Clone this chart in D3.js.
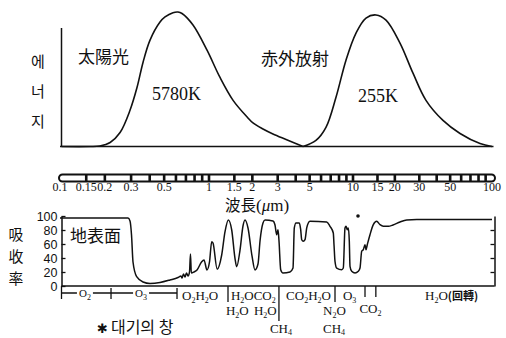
<!DOCTYPE html>
<html>
<head>
<meta charset="utf-8">
<script src="https://cdn.jsdelivr.net/npm/d3@7"></script>
<style>
  body { margin: 0; background: #fff; }
  svg { display: block; }
</style>
</head>
<body>
<svg id="chart" width="506" height="338"></svg>
<script>
// ---- data (wavelength in µm) ----
const rulerLabels = [0.1, 0.15, 0.2, 0.3, 0.5, 1, 1.5, 2, 3, 5, 10, 15, 20, 30, 50, 100];
const rulerDividers = [0.15, 0.2, 0.3, 0.4, 0.5, 0.6, 0.7, 0.8, 0.9, 1, 1.5, 2, 3, 4, 5, 6, 7, 8, 9, 10,
  15, 20, 30, 40, 50, 60, 70, 80, 90];

// solar (5780K) curve
const sunWave = [0.1, 0.159, 0.185, 0.217, 0.253, 0.295, 0.329, 0.361, 0.402, 0.469, 0.507, 0.573, 0.619,
  0.659, 0.781, 0.970, 1.19, 1.47, 1.84, 2.02, 2.37, 2.78, 3.43, 4.50];
const sunEnergy = [0, 0, 0.4, 3, 10.4, 26.9, 44, 62.7, 79.1, 92.5, 96.3, 99.5, 100,
  98.9, 90.3, 71.6, 51.5, 34.3, 21.9, 17.5, 13.0, 9.3, 5.2, 0];

// terrestrial infrared (255K) curve
const irWave = [4.50, 5.53, 6.49, 7.62, 8.94, 10.51, 12.4, 14.64, 17.28, 21.78, 27.02, 33.5, 44.4, 58.9, 82.0, 100];
const irEnergy = [0, 4.5, 14.2, 36.6, 64.2, 84.3, 95.5, 97.8, 94, 76.9, 54.5, 34.3, 19.4, 9.7, 2.2, 0];

// atmospheric absorption (%)
const absWave = [0.1, 0.286, 0.295, 0.302, 0.309, 0.327, 0.361, 0.402, 0.469, 0.547, 0.619, 0.649, 0.659,
  0.674, 0.690, 0.706, 0.723, 0.740, 0.751, 0.761, 0.793, 0.831, 0.891, 0.926, 0.969, 1.008, 1.044, 1.066,
  1.14, 1.225, 1.292, 1.362, 1.438, 1.515, 1.557, 1.642, 1.722, 1.778, 1.866, 1.989, 2.086, 2.189, 2.261,
  2.371, 2.448, 2.783, 2.873, 2.952, 3.014, 3.063, 3.147, 3.265, 3.652, 3.831, 3.912, 4.019, 4.238, 4.333,
  4.404, 4.518, 4.642, 4.770, 4.893, 5.028, 6.567, 6.922, 7.298, 7.381, 7.499, 7.705, 8.348, 8.563, 8.799,
  8.941, 9.129, 9.277, 9.427, 9.532, 9.794, 10.34, 10.92, 11.23, 11.55, 11.86, 12.2, 12.4, 12.67, 13.25,
  14.0, 14.81, 15.64, 16.52, 17.95, 19.4, 21.78, 24.34, 28.73, 100];
const absValue = [97, 97, 92.9, 72.9, 34.3, 13.3, 5.7, 3.6, 5, 8.6, 12.1, 14.3, 11.4,
  17.1, 12.9, 18.6, 14.3, 20, 45.7, 18.6, 20, 22.9, 34.3, 37.1, 22.9, 34.3, 63.3, 61.4,
  24, 44.3, 77.6, 94.3, 80, 39.6, 27.6, 51.4, 85.7, 94.3, 82.9, 42.9, 22.9, 31.4, 64.3,
  90, 94.3, 92.9, 87.1, 73.3, 80.4, 64.3, 23.3, 18.6, 20, 25.7, 82.9, 90, 90, 80.4,
  66.1, 63.9, 66.1, 82.9, 90, 92.4, 91.4, 85.3, 75.7, 59, 35.3, 25.7, 23.3, 25.7, 82.9,
  85.3, 80.4, 82.9, 63.9, 28.1, 21, 18.6, 21, 25.7, 49.6, 51.9, 59, 51.9, 59, 73.3,
  87.6, 92.4, 87.6, 85.3, 85.3, 87.1, 91.4, 94.3, 95, 95];
const absTicks = [0, 20, 40, 60, 80, 100];

// absorber annotations (anchor wavelength)
const bracketStops = [0.1, 0.22, 0.61];
const bracketGases = [{ text: 'O2', at: 0.147 }, { text: 'O3', at: 0.35 }];
const gasRow1 = [{ text: 'O2H2O', at: 0.659 }, { text: 'H2OCO2', at: 1.42 }, { text: 'CO2H2O', at: 3.43 },
  { text: 'O3', at: 8.52 }, { text: 'H2O', at: 33.0, suffix: '(回轉)' }];
const gasRow2 = [{ text: 'H2O', at: 1.31 }, { text: 'H2O', at: 2.05 }, { text: 'N2O', at: 6.19 }];
const gasRow3 = [{ text: 'CH4', at: 2.65 }, { text: 'CH4', at: 6.19 }];
const co2Band = [12.2, 14.6];
const shortMarks = [1.355, 7.5];
const longMarks = [3.06];

const ink = '#111';
const serif = '"Liberation Serif", "DejaVu Serif", serif';
const cjk = '"Noto Sans CJK KR", "Noto Sans CJK SC", sans-serif';

const svg = d3.select('#chart');
svg.append('rect').attr('width', 506).attr('height', 338).attr('fill', '#fff');

const x = d3.scaleLog().domain([0.1, 1, 10, 100]).range([60, 209, 353, 492]);
const yE = d3.scaleLinear().domain([0, 100]).range([146.5, 12]);
const yA = d3.scaleLinear().domain([0, 100]).range([286, 216]);

const x0 = x(0.1) + 1.5;
const xEnd = x(100) + 1.5;

// vertical stacked label as one text element
function stacked(sel, chars, cx, y0, step, size) {
  const t = sel.append('text').attr('text-anchor', 'middle').attr('font-family', cjk)
    .attr('font-size', size).attr('fill', ink);
  chars.forEach((c, i) => {
    t.append('tspan').attr('x', cx).attr(i === 0 ? 'y' : 'dy', i === 0 ? y0 : step).text(c);
  });
}

// ---- energy panel ----
const energyPanel = svg.append('g');
energyPanel.append('line').attr('x1', x0).attr('x2', x0).attr('y1', 28).attr('y2', yE(0))
  .attr('stroke', ink).attr('stroke-width', 1.5);
energyPanel.append('line').attr('x1', x0).attr('x2', xEnd).attr('y1', yE(0)).attr('y2', yE(0))
  .attr('stroke', ink).attr('stroke-width', 1.5);

const energyLine = d3.line().curve(d3.curveCatmullRom.alpha(0.5))
  .x(d => x(d[0])).y(d => yE(d[1]));
energyPanel.append('path').datum(d3.zip(sunWave, sunEnergy)).attr('d', energyLine)
  .attr('fill', 'none').attr('stroke', ink).attr('stroke-width', 1.6);
energyPanel.append('path').datum(d3.zip(irWave, irEnergy)).attr('d', energyLine)
  .attr('fill', 'none').attr('stroke', ink).attr('stroke-width', 1.6);

stacked(energyPanel, ['에', '너', '지'], 38, 67, 30, 15);
energyPanel.append('text').attr('x', 78).attr('y', 63).attr('font-family', cjk).attr('font-size', 17)
  .attr('fill', ink).text('太陽光');
energyPanel.append('text').attr('x', 261).attr('y', 65).attr('font-family', cjk).attr('font-size', 17)
  .attr('fill', ink).text('赤外放射');
energyPanel.append('text').attr('x', 152).attr('y', 100).attr('font-family', serif).attr('font-size', 18)
  .attr('fill', ink).text('5780K');
energyPanel.append('text').attr('x', 358).attr('y', 102).attr('font-family', serif).attr('font-size', 18)
  .attr('fill', ink).text('255K');

// ---- wavelength ruler ----
const ruler = svg.append('g');
ruler.append('rect').attr('x', x(0.1) - 1).attr('y', 174.5).attr('width', x(100) - x(0.1) + 4)
  .attr('height', 7).attr('rx', 3.5).attr('fill', '#fff').attr('stroke', ink).attr('stroke-width', 2);
ruler.selectAll('rect.div').data(rulerDividers).join('rect').attr('class', 'div')
  .attr('x', d => x(d) - 1.3).attr('y', 174.5).attr('width', 2.6).attr('height', 7).attr('fill', ink);
ruler.selectAll('text').data(rulerLabels).join('text')
  .attr('x', d => x(d)).attr('y', 190.5).attr('text-anchor', 'middle')
  .attr('font-family', serif).attr('font-size', 12).attr('fill', ink).text(d => d);

const wl = svg.append('text').attr('x', 225).attr('y', 211).attr('font-size', 17).attr('fill', ink);
wl.append('tspan').attr('font-family', cjk).attr('font-size', 15.5).text('波長');
wl.append('tspan').attr('font-family', serif).text('(');
wl.append('tspan').attr('font-family', serif).attr('font-style', 'italic').text('μ');
wl.append('tspan').attr('font-family', serif).text('m)');

// ---- absorption panel ----
const absPanel = svg.append('g');
absPanel.append('g').attr('transform', `translate(${x0},0)`)
  .call(d3.axisLeft(yA).tickValues(absTicks).tickSizeInner(-4).tickSizeOuter(0).tickPadding(4))
  .call(g => {
    g.select('.domain').attr('stroke', ink).attr('stroke-width', 1.5);
    g.selectAll('.tick line').attr('stroke', ink).attr('stroke-width', 1.3);
    g.selectAll('.tick text').attr('font-family', '"Liberation Sans", Arial, sans-serif')
      .attr('font-size', 12.5).attr('fill', ink);
  });
absPanel.append('g').attr('transform', `translate(${xEnd + 1},0)`)
  .call(d3.axisRight(yA).tickValues([20, 40, 60, 80]).tickSizeInner(-4).tickSizeOuter(0).tickFormat(''))
  .call(g => {
    g.select('.domain').attr('stroke', ink).attr('stroke-width', 1.5);
    g.selectAll('.tick line').attr('stroke', ink).attr('stroke-width', 1.3);
  });
absPanel.append('line').attr('x1', x0).attr('x2', xEnd + 1).attr('y1', yA(0)).attr('y2', yA(0))
  .attr('stroke', ink).attr('stroke-width', 1.5);

const absLine = d3.line().curve(d3.curveMonotoneX).x(d => x(d[0])).y(d => yA(d[1]));
absPanel.append('path').datum(d3.zip(absWave, absValue)).attr('d', absLine)
  .attr('fill', 'none').attr('stroke', ink).attr('stroke-width', 1.5);

absPanel.append('circle').attr('cx', 358).attr('cy', 216).attr('r', 1.8).attr('fill', ink);

stacked(absPanel, ['吸', '收', '率'], 16, 239.5, 22, 14.8);
absPanel.append('text').attr('x', 70).attr('y', 242).attr('font-family', cjk).attr('font-size', 17)
  .attr('fill', ink).text('地表面');

// chemical formula with subscripts
function chem(sel, str) {
  let down = false;
  str.split(/(\d)/).filter(s => s.length).forEach(p => {
    const t = sel.append('tspan').text(p);
    if (/\d/.test(p)) {
      t.attr('font-size', 8);
      if (!down) { t.attr('dy', 2.5); down = true; }
    } else if (down) {
      t.attr('dy', -2.5); down = false;
    }
  });
}

// bracket for UV absorbers
const br = svg.append('g');
br.append('line').attr('x1', x(bracketStops[0]) + 1.5).attr('x2', x(bracketStops[2]))
  .attr('y1', 293).attr('y2', 293).attr('stroke', ink).attr('stroke-width', 1.3);
br.selectAll('line.tk').data(bracketStops).join('line').attr('class', 'tk')
  .attr('x1', (d, i) => x(d) + (i === 0 ? 1.5 : 0)).attr('x2', (d, i) => x(d) + (i === 0 ? 1.5 : 0))
  .attr('y1', (d, i) => i === 0 ? 286 : 288).attr('y2', 299)
  .attr('stroke', ink).attr('stroke-width', 1.3);
bracketGases.forEach(g => {
  br.append('rect').attr('x', x(g.at) - 8).attr('y', 288).attr('width', 16).attr('height', 10).attr('fill', '#fff');
  const t = br.append('text').attr('x', x(g.at)).attr('y', 297).attr('text-anchor', 'middle')
    .attr('font-family', serif).attr('font-size', 11).attr('fill', ink);
  chem(t, g.text);
});

function gasRow(rows, y) {
  rows.forEach(g => {
    const t = svg.append('text').attr('x', x(g.at)).attr('y', y)
      .attr('font-family', serif).attr('font-size', 13).attr('fill', ink);
    chem(t, g.text);
    if (g.suffix) {
      t.append('tspan').attr('font-family', cjk).attr('font-weight', 'bold').attr('font-size', 11)
        .text(g.suffix);
    }
  });
}
gasRow(gasRow1, 300);
gasRow(gasRow2, 315);
gasRow(gasRow3, 332.5);

const co2 = svg.append('text').attr('x', (x(co2Band[0]) + x(co2Band[1])) / 2).attr('y', 313)
  .attr('text-anchor', 'middle').attr('font-family', serif).attr('font-size', 13).attr('fill', ink);
chem(co2, 'CO2');

svg.selectAll('line.mk').data(co2Band.map(v => [v, 297]).concat(shortMarks.map(v => [v, 302]), longMarks.map(v => [v, 321])))
  .join('line').attr('class', 'mk')
  .attr('x1', d => x(d[0])).attr('x2', d => x(d[0])).attr('y1', 286).attr('y2', d => d[1])
  .attr('stroke', ink).attr('stroke-width', 1.3);

// atmospheric window note
const note = svg.append('text').attr('x', 97).attr('y', 333).attr('fill', ink);
note.append('tspan').attr('font-family', '"DejaVu Sans", sans-serif').attr('font-size', 13)
  .attr('font-weight', 'bold').text('✱');
note.append('tspan').attr('dx', 3).attr('font-family', cjk).attr('font-size', 16).text('대기의 창');
</script>
</body>
</html>
